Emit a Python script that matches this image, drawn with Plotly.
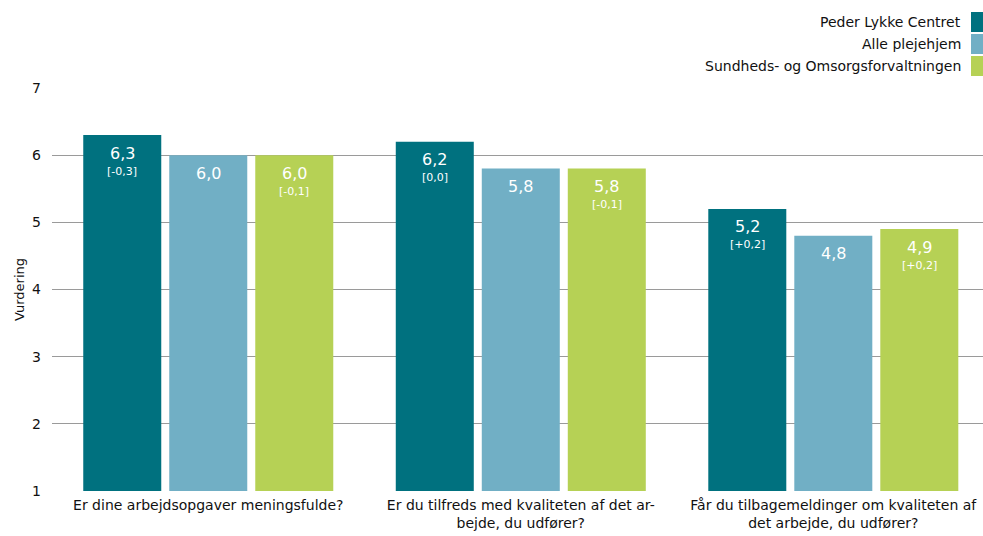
import plotly.graph_objects as go

categories = [
    "Er dine arbejdsopgaver meningsfulde?",
    "Er du tilfreds med kvaliteten af det ar-<br>bejde, du udfører?",
    "Får du tilbagemeldinger om kvaliteten af<br>det arbejde, du udfører?",
]
series_names = ["Peder Lykke Centret", "Alle plejehjem", "Sundheds- og Omsorgsforvaltningen"]
peder_lykke = [6.3, 6.2, 5.2]
alle_plejehjem = [6.0, 5.8, 4.8]
sof = [6.0, 5.8, 4.9]
peder_diff = ["-0,3", "0,0", "+0,2"]
sof_diff = ["-0,1", "-0,1", "+0,2"]
y_ticks = [1, 2, 3, 4, 5, 6, 7]

colors = ["#00717F", "#71AFC5", "#B6D155"]
FONT = "DejaVu Sans"

W, H = 983, 536
L, R, T, B = 52, 0, 88, 45
PW, PH = W - L - R, H - T - B
X_RANGE = [-0.5, 2.479]
BARGAP, GROUPGAP = 0.1744, 0.093
N_SERIES = 3

# pixel width of one bar slot inside a group, used to place the value labels
px_per_cat = PW / (X_RANGE[1] - X_RANGE[0])
slot_px = px_per_cat * (1 - BARGAP) / N_SERIES


def fmt(v):
    return f"{v:.1f}".replace(".", ",")


x = list(range(len(categories)))
fig = go.Figure()
series = [
    (series_names[0], peder_lykke, peder_diff, colors[0]),
    (series_names[1], alle_plejehjem, None, colors[1]),
    (series_names[2], sof, sof_diff, colors[2]),
]
for j, (name, vals, diffs, col) in enumerate(series):
    fig.add_trace(go.Bar(
        x=x, y=vals, name=name, marker=dict(color=col, line=dict(width=0)),
        showlegend=False, hoverinfo="skip",
    ))
    shift = (j - (N_SERIES - 1) / 2) * slot_px
    for i, v in enumerate(vals):
        fig.add_annotation(
            x=i, y=v, xref="x", yref="y", xshift=shift, yshift=-18,
            text=fmt(v), showarrow=False, xanchor="center", yanchor="middle",
            font=dict(size=16, color="white", family=FONT),
        )
        if diffs is not None:
            fig.add_annotation(
                x=i, y=v, xref="x", yref="y", xshift=shift, yshift=-36,
                text=f"[{diffs[i]}]", showarrow=False, xanchor="center", yanchor="middle",
                font=dict(size=11, color="white", family=FONT),
            )

# legend drawn with right-aligned labels and swatches on the right
for i, (name, col) in enumerate(zip(series_names, colors)):
    yc = 22 + i * 22
    fig.add_annotation(
        x=(963 - L) / PW, y=1 + (T - yc) / PH,
        xref="paper", yref="paper", text=name, showarrow=False,
        xanchor="right", yanchor="middle",
        font=dict(size=14, color="#111111", family=FONT),
    )
    fig.add_shape(
        type="rect", xref="paper", yref="paper",
        x0=(971 - L) / PW, x1=(985 - L) / PW,
        y0=1 + (T - (yc + 10)) / PH, y1=1 + (T - (yc - 10)) / PH,
        fillcolor=col, line=dict(width=0),
    )

fig.update_layout(
    width=W, height=H,
    margin=dict(l=L, r=R, t=T, b=B),
    paper_bgcolor="white", plot_bgcolor="white",
    barmode="group", bargap=BARGAP, bargroupgap=GROUPGAP,
    font=dict(family=FONT, size=13, color="#111111"),
    xaxis=dict(
        tickmode="array", tickvals=x, ticktext=categories,
        range=X_RANGE, showgrid=False, zeroline=False,
        showline=False, ticks="", ticklabelstandoff=4,
        tickfont=dict(size=14, family=FONT, color="#111111"),
    ),
    yaxis=dict(
        range=[1, 7], tickvals=y_ticks, showgrid=True, gridcolor="#9a9a9a",
        gridwidth=1, zeroline=False, showline=False, ticks="",
        ticklabelstandoff=10,
        tickfont=dict(size=14, family=FONT, color="#111111"),
        title=dict(text="Vurdering", font=dict(size=13, family=FONT, color="#111111"), standoff=4),
    ),
)

fig.write_html("out.html")
